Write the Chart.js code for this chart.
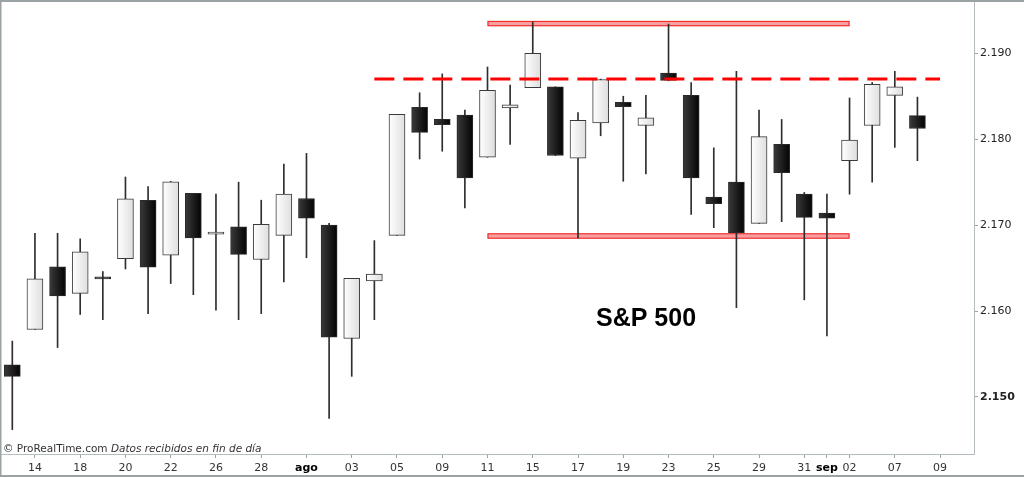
<!DOCTYPE html>
<html>
<head>
<meta charset="utf-8">
<script src="https://cdn.jsdelivr.net/npm/chart.js@4/dist/chart.umd.min.js"></script>
<style>
  html, body { margin: 0; padding: 0; background: #fff; }
</style>
</head>
<body>
<canvas id="chart" width="1024" height="477"></canvas>
<script>
// trading days, 13 jul -> 12 sep (last two slots have no candle)
const days = ['13', '14', '15', '18', '19', '20', '21', '22', '25', '26', '27', '28', '29',
  'ago', '02', '03', '04', '05', '08', '09', '10', '11', '12', '15', '16', '17', '18', '19',
  '22', '23', '24', '25', '26', '29', '30', '31', 'sep', '02', '06', '07', '08', '09', '12']

// indices of days that get a tick label
const shownTicks = [1, 3, 5, 7, 9, 11, 13, 15, 17, 19, 21, 23, 25, 27, 29, 31, 33, 35, 36, 37, 39, 41]

const opens = [2153.75, 2157.85, 2165.15, 2162.05, 2163.8, 2166.1, 2172.9, 2166.5, 2173.7, 2168.95,
  2169.8, 2166.0, 2168.8, 2173.1, 2170.0, 2156.8, 2163.5, 2168.8, 2183.7, 2182.3,
  2182.8, 2177.9, 2183.65, 2186.0, 2186.1, 2177.8, 2181.9, 2184.3, 2181.6, 2187.7,
  2185.1, 2173.25, 2175.0, 2170.2, 2179.4, 2173.6, 2171.4, 2177.5, 2181.6, 2185.1, 2182.75]
const highs = [2156.5, 2169.05, 2169.05, 2168.4, 2164.6, 2175.6, 2174.5, 2175.1, 2173.7, 2173.6,
  2175.0, 2172.9, 2177.1, 2178.35, 2170.2, 2163.8, 2168.2, 2182.9, 2185.4, 2187.6,
  2183.4, 2188.4, 2186.3, 2193.65, 2186.1, 2183.1, 2187.0, 2185.0, 2185.1, 2193.4,
  2186.6, 2179.0, 2187.9, 2183.4, 2182.3, 2173.8, 2173.6, 2184.8, 2186.6, 2187.9, 2184.9]
const lows = [2146.2, 2157.85, 2155.75, 2159.6, 2159.0, 2164.9, 2159.7, 2163.2, 2161.9, 2160.1,
  2159.0, 2159.7, 2163.4, 2166.2, 2147.5, 2152.4, 2159.0, 2168.8, 2177.7, 2178.6,
  2172.0, 2177.9, 2179.4, 2186.0, 2178.1, 2168.5, 2180.4, 2175.1, 2175.95, 2186.8,
  2171.25, 2169.7, 2160.4, 2170.2, 2170.4, 2161.3, 2157.1, 2173.6, 2175.0, 2179.05, 2177.5]
const closes = [2152.4, 2163.75, 2161.75, 2166.9, 2163.75, 2173.05, 2165.1, 2175.05, 2168.5, 2169.2,
  2166.6, 2170.1, 2173.6, 2170.8, 2156.95, 2163.8, 2164.3, 2182.9, 2180.8, 2181.7,
  2175.5, 2185.7, 2184.0, 2190.0, 2178.1, 2182.2, 2186.95, 2183.8, 2182.5, 2186.85,
  2175.5, 2172.5, 2169.1, 2180.3, 2176.1, 2170.9, 2170.8, 2179.9, 2186.4, 2186.1, 2181.25]

const yTicks = [2150, 2160, 2170, 2180, 2190]

// drawn levels: resistance line and the two range zones
const resistance = 2187
const lineFrom = 16
const lineTo = 41
const topZone = [2193.15, 2193.77]
const bottomZone = [2168.42, 2169.05]
const zoneFrom = 21
const zoneTo = 37

const FONT = '"DejaVu Sans", Verdana, sans-serif'

const isUp = (i) => closes[i] >= opens[i]

function bodyFill(c) {
  if (c.type !== 'data' || !c.chart.chartArea) return '#888'
  const i = c.dataIndex
  const x = c.chart.scales.x.getPixelForValue(i)
  const g = c.chart.ctx.createLinearGradient(x - 8, 0, x + 8, 0)
  if (isUp(i)) {
    g.addColorStop(0, '#ffffff')
    g.addColorStop(1, '#dedede')
  } else {
    g.addColorStop(0, '#3a3a3a')
    g.addColorStop(1, '#030303')
  }
  return g
}

const decor = {
  id: 'decor',
  beforeDraw(chart) {
    const { ctx, width, height } = chart
    ctx.save()
    ctx.fillStyle = '#fff'
    ctx.fillRect(0, 0, width, height)
    ctx.fillStyle = '#9aa2a4'
    ctx.fillRect(0, 0, width, 2)
    ctx.fillRect(0, 0, 1.5, height)
    ctx.fillRect(0, height - 2, width, 2)
    ctx.restore()
  },
  beforeDatasetsDraw(chart) {
    const { ctx, scales: { x, y } } = chart
    const x0 = x.getPixelForValue(zoneFrom)
    const x1 = x.getPixelForValue(zoneTo)
    ctx.save()
    for (const z of [topZone, bottomZone]) {
      const yTop = y.getPixelForValue(z[1])
      const yBot = y.getPixelForValue(z[0])
      ctx.fillStyle = 'rgba(240, 80, 80, 0.55)'
      ctx.fillRect(x0, yTop, x1 - x0, yBot - yTop)
      ctx.strokeStyle = '#f02020'
      ctx.lineWidth = 1
      ctx.strokeRect(x0 + 0.5, yTop + 0.5, x1 - x0 - 1, yBot - yTop - 1)
    }
    ctx.restore()
  },
  afterDatasetsDraw(chart) {
    const { ctx, scales: { x, y } } = chart
    const yy = y.getPixelForValue(resistance)
    ctx.save()
    ctx.strokeStyle = '#ff0000'
    ctx.lineWidth = 3
    ctx.setLineDash([20, 9])
    ctx.beginPath()
    ctx.moveTo(x.getPixelForValue(lineFrom), yy)
    ctx.lineTo(x.getPixelForValue(lineTo), yy)
    ctx.stroke()
    ctx.restore()
  },
  afterDraw(chart) {
    const { ctx } = chart
    ctx.save()
    ctx.fillStyle = '#000'
    ctx.font = 'bold 25px "Liberation Sans", Arial, sans-serif'
    ctx.textAlign = 'center'
    ctx.textBaseline = 'alphabetic'
    ctx.fillText('S&P 500', 646, 326)

    ctx.textAlign = 'left'
    ctx.fillStyle = '#333'
    ctx.font = '10.5px ' + FONT
    const part1 = '\u00a9 ProRealTime.com '
    ctx.fillText(part1, 3, 452)
    const w = ctx.measureText(part1).width
    ctx.font = 'italic 10.5px ' + FONT
    ctx.fillText('Datos recibidos en fin de d\u00eda', 3 + w, 452)
    ctx.restore()
  },
}

new Chart(document.getElementById('chart'), {
  type: 'bar',
  data: {
    labels: days,
    datasets: [
      {
        label: 'body',
        data: opens.map((o, i) => [o, closes[i]]),
        backgroundColor: bodyFill,
        borderColor: (c) => (c.type === 'data' && isUp(c.dataIndex) ? '#3a3a3a' : '#2a2a2a'),
        borderWidth: 1,
        borderSkipped: false,
        barThickness: 16,
        minBarLength: 2,
        grouped: false,
        order: 0,
      },
      {
        label: 'wick',
        data: lows.map((l, i) => [l, highs[i]]),
        backgroundColor: '#2e2e2e',
        borderWidth: 0,
        barThickness: 1,
        grouped: false,
        order: 1,
      },
    ],
  },
  options: {
    responsive: false,
    animation: false,
    layout: { padding: { top: 2, left: 1, right: 0, bottom: 0 } },
    plugins: {
      legend: { display: false },
      tooltip: { enabled: false },
    },
    scales: {
      x: {
        offset: true,
        border: { color: '#b4bcc0', width: 1 },
        grid: {
          offset: false,
          drawOnChartArea: false,
          drawTicks: true,
          tickLength: 4,
          tickColor: (c) => (shownTicks.includes(c.index) ? '#9aa4a8' : 'rgba(0,0,0,0)'),
        },
        ticks: {
          autoSkip: false,
          maxRotation: 0,
          minRotation: 0,
          padding: 4,
          color: (c) => (days[c.index] === 'ago' || days[c.index] === 'sep' ? '#000' : '#333'),
          font: (c) => ({
            family: FONT,
            size: 11,
            weight: days[c.index] === 'ago' || days[c.index] === 'sep' ? 'bold' : 'normal',
          }),
          callback: (v, i) => (shownTicks.includes(i) ? days[i] : ''),
        },
        afterFit: (s) => {
          s.height = 23
          s.paddingLeft = 0
          s.paddingRight = 0
        },
      },
      y: {
        position: 'right',
        min: 2143.36,
        max: 2195.97,
        border: { color: '#b4bcc0', width: 1 },
        grid: {
          drawOnChartArea: false,
          drawTicks: true,
          tickLength: 4,
          tickColor: '#9aa4a8',
        },
        afterBuildTicks: (s) => { s.ticks = yTicks.map((v) => ({ value: v })) },
        ticks: {
          padding: 2,
          color: '#222',
          font: (c) => ({
            family: FONT,
            size: 11,
            weight: c.tick && c.tick.value === 2150 ? 'bold' : 'normal',
          }),
          callback: (v) => {
            const s = String(Math.round(v))
            return s.slice(0, 1) + '.' + s.slice(1)
          },
        },
        afterFit: (s) => {
          s.width = 50
          s.paddingTop = 0
          s.paddingBottom = 0
        },
      },
    },
  },
  plugins: [decor],
})
</script>
</body>
</html>
